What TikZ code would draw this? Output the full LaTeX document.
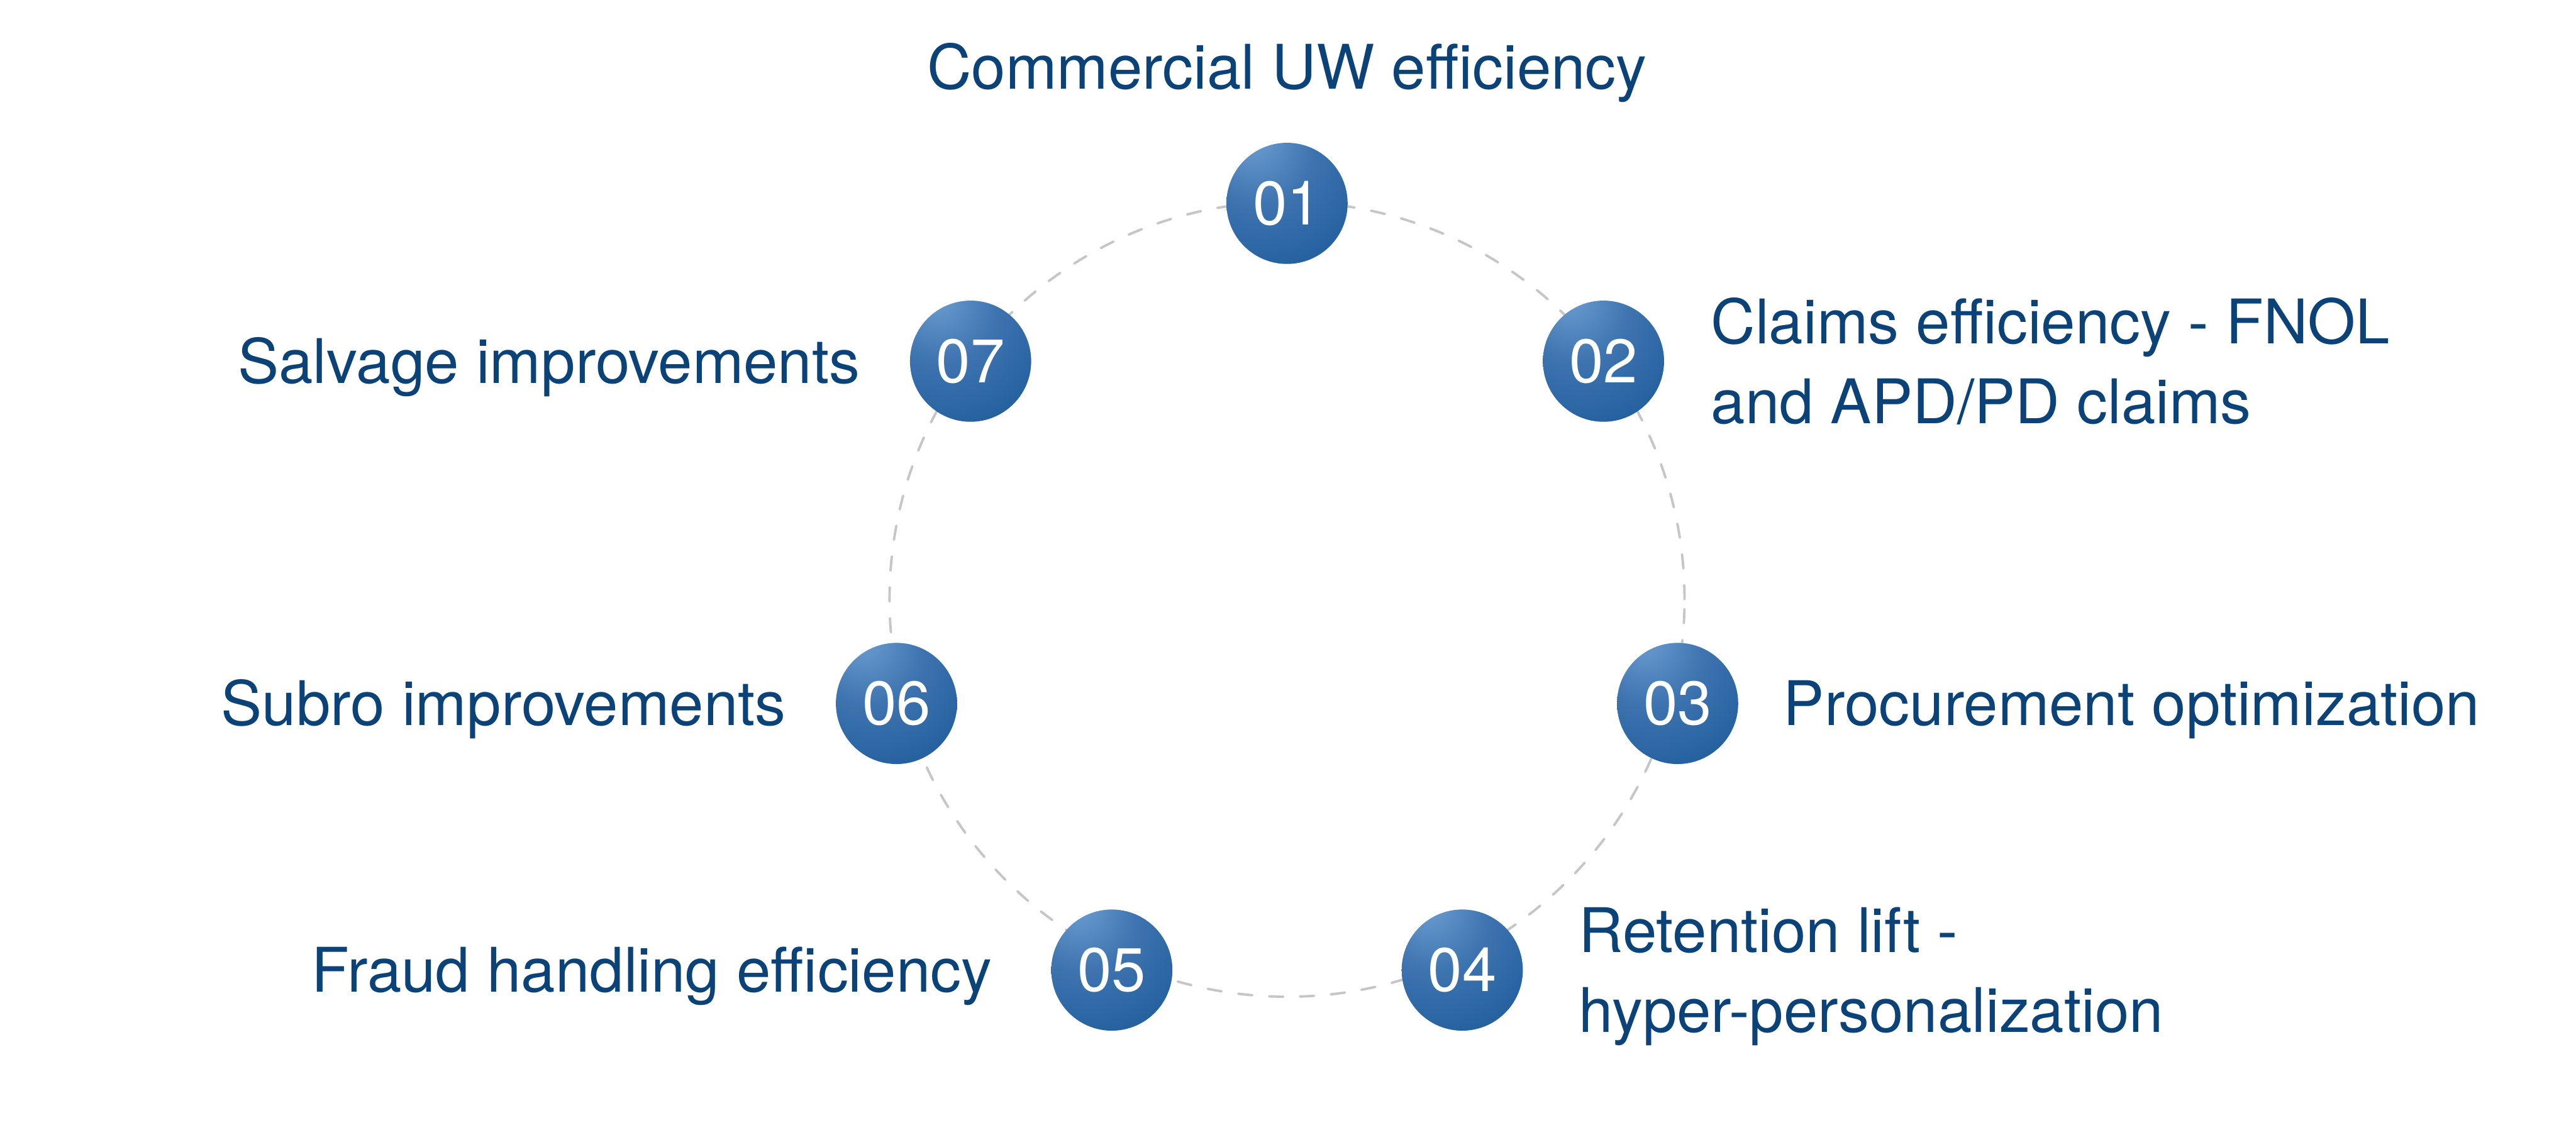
\documentclass[tikz,border=0pt]{standalone}
\usepackage{fontspec}
\setmainfont{TeX Gyre Heros}
\definecolor{ringGray}{HTML}{C6C6C6}
\definecolor{labelBlue}{HTML}{0B4378}
\definecolor{ballLight}{HTML}{6E9FD2}
\definecolor{ballMid}{HTML}{3E74B0}
\definecolor{ballDark}{HTML}{0E4F8F}
\pgfdeclareradialshading{ballshade}{\pgfpoint{-15bp}{28bp}}{%
  color(0bp)=(ballLight); color(22bp)=(ballMid);
  color(55bp)=(ballDark!80!ballMid); color(80bp)=(ballDark);
  color(100bp)=(ballDark)}
\newcommand{\leverfont}{\fontsize{11.34pt}{14.73pt}\selectfont}

\begin{document}
\begin{tikzpicture}[line cap=round, line join=round,
    ball/.style={circle, minimum size=7.85mm, inner sep=0pt,
      shade, shading=ballshade, text=white, font=\leverfont},
    lbl/.style={inner sep=0pt, text=labelBlue, font=\leverfont}]
  % Page frame
  \fill[white] (-8.3375,-3.4375) rectangle (8.35,3.8825);
  \useasboundingbox (-8.3375,-3.4375) rectangle (8.35,3.8825);
  % Dashed ring
  \draw[ringGray, line width=0.45pt, dash pattern=on 2.6pt off 3.1pt]
    (0,0) circle (2.575);
  % Numbered balls
  \node[ball] (n01) at (0,2.565) {01};
  \node[ball] (n02) at (2.05,1.5425) {02};
  \node[ball] (n03) at (2.53,-0.675) {03};
  \node[ball] (n04) at (1.135,-2.4025) {04};
  \node[ball] (n05) at (-1.135,-2.4025) {05};
  \node[ball] (n06) at (-2.53,-0.675) {06};
  \node[ball] (n07) at (-2.05,1.5425) {07};
  % Labels (two-line ones sit on their last line)
  \node[lbl, anchor=base] (t01) at ([yshift=3.4mm]n01.north)
    {Commercial UW efficiency};
  \node[lbl, anchor=base west, align=left] (t02)
    at ([xshift=2.9mm, yshift=-4.03mm]n02.east)
    {Claims efficiency - FNOL\\and APD/PD claims};
  \node[lbl, anchor=base west] (t03) at ([xshift=2.8mm, yshift=-1.43mm]n03.east)
    {Procurement optimization};
  \node[lbl, anchor=base west, align=left] (t04)
    at ([xshift=3.5mm, yshift=-4.03mm]n04.east)
    {Retention lift -\\hyper-personalization};
  \node[lbl, anchor=base east] (t05) at ([xshift=-3.7mm, yshift=-1.4mm]n05.west)
    {Fraud handling efficiency};
  \node[lbl, anchor=base east] (t06) at ([xshift=-3.1mm, yshift=-1.43mm]n06.west)
    {Subro improvements};
  \node[lbl, anchor=base east] (t07) at ([xshift=-3.1mm, yshift=-1.43mm]n07.west)
    {Salvage improvements};
\end{tikzpicture}
\end{document}
